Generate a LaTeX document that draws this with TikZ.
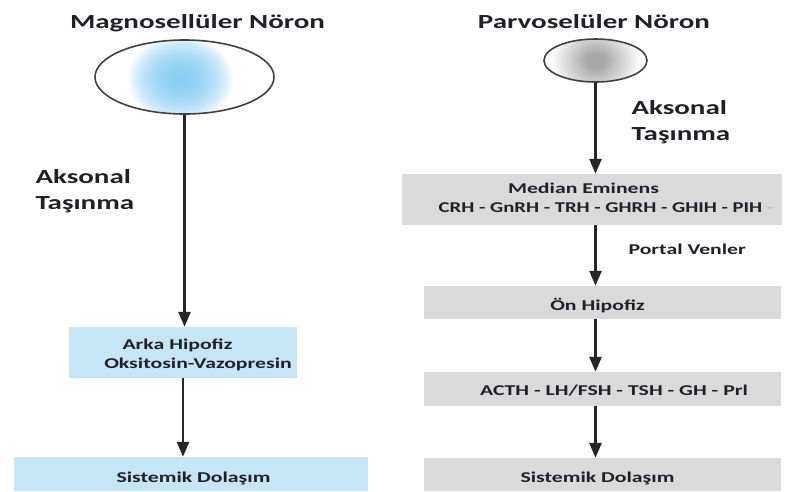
\documentclass[tikz,border=0pt]{standalone}
\usepackage{fontspec}
\setmainfont{Carlito}
\usepackage{graphicx}
\usetikzlibrary{arrows.meta}
\usetikzlibrary{shapes.geometric}
\definecolor{mblue}{RGB}{198,229,247}
\definecolor{mgray}{RGB}{218,218,218}
\definecolor{sblue}{RGB}{118,198,240}
\definecolor{sgray}{RGB}{168,168,168}
\definecolor{ink}{RGB}{32,32,40}
\pgfdeclareradialshading{parvoglow}{\pgfpoint{0bp}{0bp}}{color(0bp)=(sgray); color(4bp)=(sgray); color(22bp)=(white); color(25bp)=(white); color(50bp)=(white)}
\newcommand{\wide}[1]{\scalebox{1.45}[1]{#1}}

\begin{document}
\begin{tikzpicture}[x=1pt, y=-1pt,
    soma/.style={draw=black!75, line width=1.6pt, ellipse, inner sep=0pt},
    box/.style={inner sep=0pt},
    bluebox/.style={box, fill=mblue},
    graybox/.style={box, fill=mgray},
    title/.style={text=ink, font=\fontsize{20}{26}\selectfont\bfseries},
    body/.style={text=ink, font=\fontsize{15}{19}\selectfont\bfseries},
    arrow/.style={-{Triangle[length=15pt,width=12pt]}, line width=2.8pt, draw=black!85},
]
\useasboundingbox (0,0) rectangle (790,491);

\node[title, anchor=base] (magnoT) at (197.5,28) {\wide{Magnosellüler Nöron}};
\node[title, anchor=base] (parvoT) at (594,28) {\wide{Parvoselüler Nöron}};

\node[soma, minimum width=179pt, minimum height=74pt,
    path picture={\foreach \r in {1,...,30}
      \fill[sblue, opacity=0.065] ([shift={(-4,2)}]path picture bounding box.center) ellipse ({1.75*\r pt} and {1.45*\r pt});}] (magno) at (184.5,77) {};
\node[soma, minimum width=103pt, minimum height=43pt,
    path picture={\shade[shading=parvoglow] (path picture bounding box.center) circle (45pt);}] (parvo) at (595.5,60.5) {};

\node[title, align=left, anchor=north west] (aksL) at (32,166) {\wide{Aksonal}\\\wide{Taşınma}};
\node[title, align=left, anchor=north west] (aksR) at (628,97) {\wide{Aksonal}\\\wide{Taşınma}};

\node[bluebox, minimum width=228pt, minimum height=51pt] (arka) at (183,352.5) {};
\node[bluebox, minimum width=354pt, minimum height=34pt] (sistemL) at (191,474) {};
\node[graybox, minimum width=380pt, minimum height=51pt] (median) at (592,199.5) {};
\node[graybox, minimum width=357pt, minimum height=33pt] (onhip) at (602.5,302.5) {};
\node[graybox, minimum width=357pt, minimum height=34pt] (acth) at (602.5,389) {};
\node[graybox, minimum width=357pt, minimum height=33pt] (sistemR) at (602.5,474.5) {};

\node[body, anchor=base] (arkaT) at (177.5,349) {\wide{Arka Hipofiz}};
\node[body, anchor=base] (oksiT) at (198,368) {\wide{Oksitosin-Vazopresin}};
\node[body, anchor=base] (sistemLT) at (193.5,482) {\wide{Sistemik Dolaşım}};
\node[body, anchor=base] (medianT) at (583.5,193) {\wide{Median Eminens}};
\node[body, anchor=base] (releaseT) at (606,212) {\scalebox{1.38}[1]{CRH - GnRH - TRH - GHRH - GHIH - PIH {\color{black!25}-}}};
\node[body, anchor=base west] (portalT) at (625,254) {\wide{Portal Venler}};
\node[body, anchor=base] (onhipT) at (597.5,310) {\wide{Ön Hipofiz}};
\node[body, anchor=base] (acthT) at (614,395) {\wide{ACTH - LH/FSH - TSH - GH - Prl}};
\node[body, anchor=base] (sistemRT) at (597.5,482) {\wide{Sistemik Dolaşım}};

\draw[arrow] (magno.south) -- (magno.south |- arka.north);
\draw[arrow] (arka.south) -- (arka.south |- sistemL.north);
\draw[arrow] (parvo.south) -- (parvo.south |- median.north);
\draw[arrow] (median.south -| parvo.south) -- (onhip.north -| parvo.south);
\draw[arrow] (onhip.south -| parvo.south) -- (acth.north -| parvo.south);
\draw[arrow] (acth.south -| parvo.south) -- (sistemR.north -| parvo.south);

\end{tikzpicture}
\end{document}
